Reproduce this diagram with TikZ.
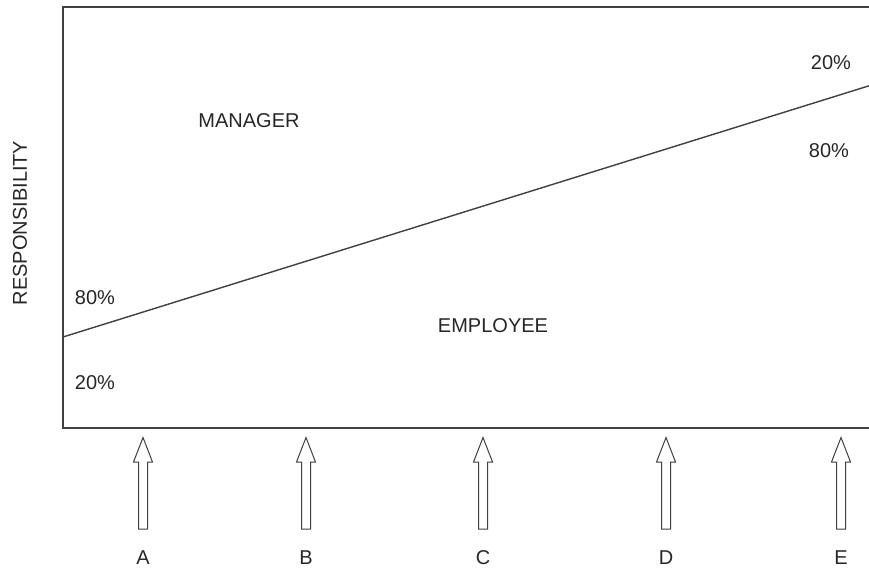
\documentclass[tikz,border=0pt]{standalone}
\usepackage{fontspec}
\setmainfont{Liberation Sans}
\definecolor{linegray}{HTML}{404040}
\begin{document}
\begin{tikzpicture}[x=1pt,y=-1pt,
  lbl/.style={inner sep=0pt,font=\fontsize{20}{22}\selectfont,text=black!85},
  frame/.style={draw=linegray,line width=2pt},
  split/.style={draw=linegray,line width=1.4pt},
  uparrow/.style={draw=linegray,line width=1pt,fill=white,line join=miter}]
\useasboundingbox (0,0) rectangle (869,572);
% frame
\coordinate (tr) at (870,7.5);
\coordinate (tl) at (63,7.5);
\coordinate (bl) at (63,428);
\coordinate (br) at (870,428);
\draw[frame] (tr) -- (tl) -- (bl) -- (br);
% dividing line
\coordinate (s) at (63,337);
\coordinate (e) at (870,85.5);
\draw[split] (s) -- (e);
% texts
\node[lbl] (manager) at (249,121) {MANAGER};
\node[lbl] (employee) at (493,326) {EMPLOYEE};
\node[lbl] (rt) at (831,63) {20\%};
\node[lbl] (rb) at (829,151) {80\%};
\node[lbl] (lt) at (95,298) {80\%};
\node[lbl] (lb) at (95,383) {20\%};
\node[lbl,rotate=90] (resp) at (20,223) {RESPONSIBILITY};
% arrows
\foreach \cx/\t in {143/A,306/B,483/C,666/D,841/E}{
  \draw[uparrow] (\cx,437.5) -- (\cx+9.5,462) -- (\cx+4.5,462) -- (\cx+4.5,529)
     -- (\cx-4.5,529) -- (\cx-4.5,462) -- (\cx-9.5,462) -- cycle;
  \node[lbl] (lab\t) at (\cx,558) {\t};
}
\end{tikzpicture}
\end{document}
